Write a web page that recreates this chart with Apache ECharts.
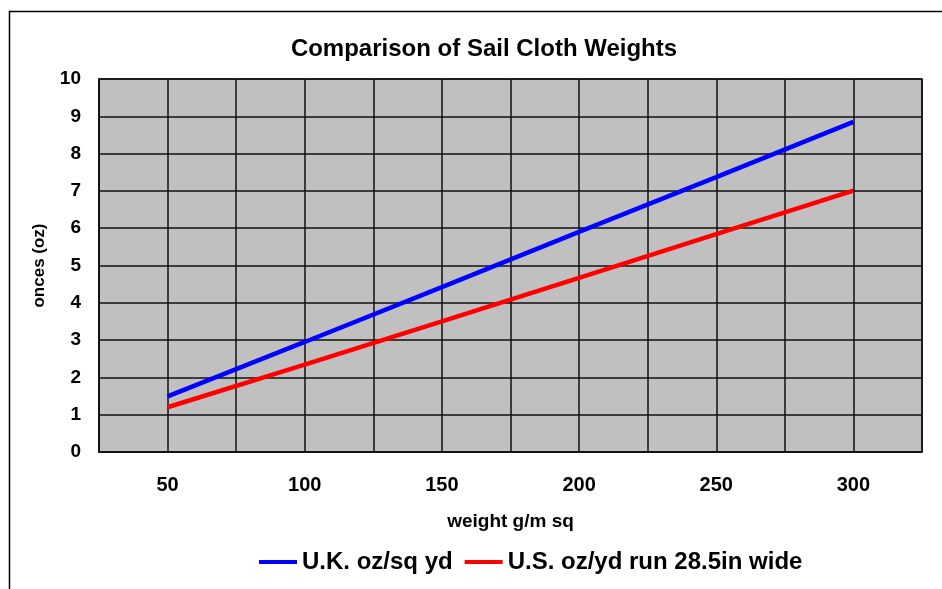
<!DOCTYPE html>
<html>
<head>
<meta charset="utf-8">
<script src="https://cdn.jsdelivr.net/npm/echarts@6/dist/echarts.min.js"></script>
<style>
  html, body { margin: 0; padding: 0; background: #fff; }
  #chart { width: 942px; height: 589px; }
</style>
</head>
<body>
<div id="chart"></div>
<script>
// Cloth weight in grams per square metre
const weights = [50, 100, 150, 200, 250, 300];
// U.K. ounces per square yard
const ukOz = [1.49, 2.95, 4.42, 5.90, 7.37, 8.85];
// U.S. ounces per yard run of 28.5 inch wide cloth
const usOz = [1.20, 2.34, 3.50, 4.67, 5.84, 7.01];
// Labelled ticks along the weight axis
const weightTicks = [50, 100, 150, 200, 250, 300];

const font = 'Liberation Sans, Arial, sans-serif';
const chart = echarts.init(document.getElementById('chart'));

chart.setOption({
  backgroundColor: '#ffffff',
  animation: false,
  title: {
    text: 'Comparison of Sail Cloth Weights',
    left: 479, top: 32, textAlign: 'center',
    textStyle: { fontFamily: font, fontWeight: 'bold', fontSize: 24, color: '#000' }
  },
  graphic: [{
    type: 'rect', silent: true, z: -1,
    shape: { x: 9.5, y: 11.5, width: 1000, height: 1000 },
    style: { fill: 'none', stroke: '#000', lineWidth: 1.5 }
  }],
  legend: {
    left: 254, top: 545,
    itemWidth: 38, itemHeight: 4, itemGap: 12,
    icon: 'rect',
    textStyle: { fontFamily: font, fontWeight: 'bold', fontSize: 24, color: '#000', padding: [0, 0, 0, 0] },
    data: ['U.K. oz/sq yd', 'U.S. oz/yd run 28.5in wide']
  },
  grid: {
    left: 99, top: 79, width: 823, height: 373,
    show: true, backgroundColor: '#c0c0c0', borderColor: '#111', borderWidth: 1.5
  },
  xAxis: {
    type: 'value', min: 25, max: 325, interval: 25,
    name: 'weight g/m sq', nameLocation: 'middle', nameGap: 60,
    nameTextStyle: { fontFamily: font, fontWeight: 'bold', fontSize: 19, color: '#000' },
    axisLine: { show: true, lineStyle: { color: '#111', width: 1.5 } },
    axisTick: { show: false },
    splitLine: { show: true, lineStyle: { color: '#111', width: 1.5 } },
    axisLabel: {
      margin: 23,
      fontFamily: font, fontWeight: 'bold', fontSize: 20, color: '#000',
      formatter: v => weightTicks.includes(v) ? String(v) : ''
    }
  },
  yAxis: {
    type: 'value', min: 0, max: 10, interval: 1,
    name: 'onces (oz)', nameLocation: 'middle', nameGap: 51, nameRotate: 90,
    nameTextStyle: { fontFamily: font, fontWeight: 'bold', fontSize: 17, color: '#000', padding: [0, 0, 0, 0] },
    axisLine: { show: true, lineStyle: { color: '#111', width: 1.5 } },
    axisTick: { show: false },
    splitLine: { show: true, lineStyle: { color: '#111', width: 1.5 } },
    axisLabel: { margin: 18, fontFamily: font, fontWeight: 'bold', fontSize: 19, color: '#000' }
  },
  series: [
    {
      name: 'U.K. oz/sq yd', type: 'line', color: '#0000ff',
      showSymbol: false, symbol: 'none',
      lineStyle: { width: 4.5, color: '#0000ff' },
      data: weights.map((w, i) => [w, ukOz[i]])
    },
    {
      name: 'U.S. oz/yd run 28.5in wide', type: 'line', color: '#ff0000',
      showSymbol: false, symbol: 'none',
      lineStyle: { width: 4.5, color: '#ff0000' },
      data: weights.map((w, i) => [w, usOz[i]])
    }
  ]
});
</script>
</body>
</html>
